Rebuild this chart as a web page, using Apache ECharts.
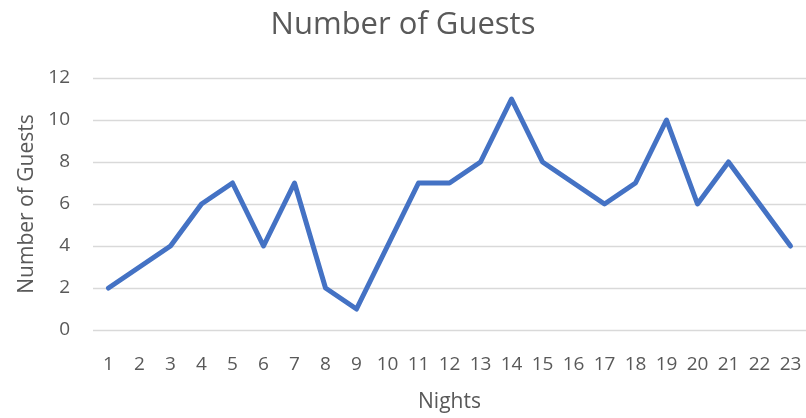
<!DOCTYPE html>
<html><head><meta charset="utf-8">
<script src="https://cdn.jsdelivr.net/npm/echarts@6/dist/echarts.min.js"></script>
<style>html,body{margin:0;padding:0;background:#fff}#c{width:806px;height:418px}</style>
</head><body><div id="c"></div>
<script>
const nights = ['1','2','3','4','5','6','7','8','9','10','11','12','13','14','15','16','17','18','19','20','21','22','23'];
const guests = [2,3,4,6,7,4,7,2,1,4,7,7,8,11,8,7,6,7,10,6,8,6,4];
const yTicks = [0,2,4,6,8,10,12];

const font = 'Open Sans';
const chart = echarts.init(document.getElementById('c'), null, {renderer:'canvas'});
chart.setOption({
  animation:false,
  title:{text:'Number of Guests',left:'center',top:5,
    textStyle:{fontFamily:font,fontSize:31,fontWeight:'normal',color:'#595959'}},
  grid:{left:93,right:0,top:78,bottom:83,containLabel:false},
  xAxis:{type:'category',data:nights,boundaryGap:true,
    name:'Nights',nameLocation:'middle',nameGap:62,
    nameTextStyle:{fontFamily:font,fontSize:21,color:'#595959'},
    axisLine:{show:false},axisTick:{show:false},
    axisLabel:{fontFamily:font,fontSize:19,color:'#595959',margin:25,interval:0}},
  yAxis:{type:'value',min:yTicks[0],max:yTicks[yTicks.length-1],interval:2,
    name:'Number of Guests',nameLocation:'middle',nameGap:54,nameRotate:90,
    nameTextStyle:{fontFamily:font,fontSize:21,color:'#595959'},
    axisLine:{show:false},axisTick:{show:false},
    axisLabel:{fontFamily:font,fontSize:19,color:'#595959',margin:23},
    splitLine:{lineStyle:{color:'#d9d9d9',width:1.3}}},
  series:[{type:'line',data:guests,symbol:'none',
    lineStyle:{color:'#4472C4',width:5,cap:'round',join:'round'}}]
});
</script></body></html>
